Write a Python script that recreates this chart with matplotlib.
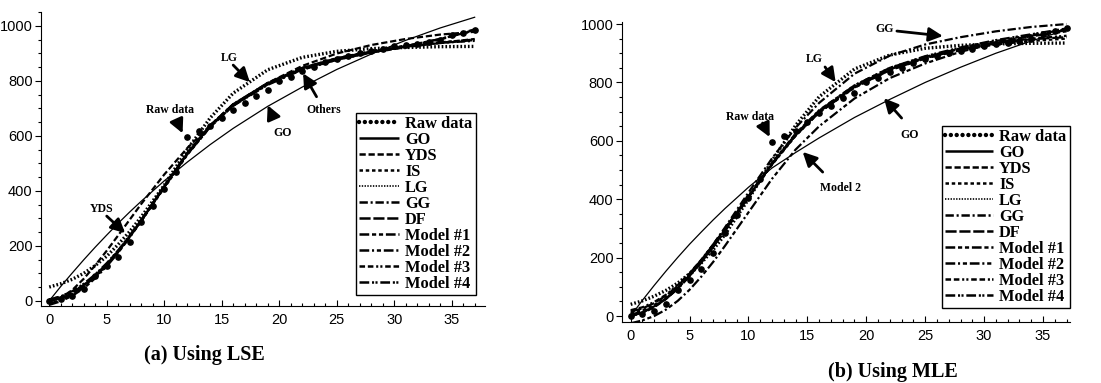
import matplotlib
matplotlib.use("Agg")
import matplotlib.pyplot as plt
from matplotlib.lines import Line2D
from matplotlib.ticker import MultipleLocator

plt.rcParams['lines.scale_dashes'] = False
plt.rcParams['font.family'] = 'Liberation Sans'

# ---- data ----
weeks = list(range(38))
raw = [0, 8, 18, 42, 90, 125, 160, 215, 285, 345, 405, 470, 595, 617, 635, 665, 695,
       720, 745, 765, 800, 815, 835, 850, 868, 880, 890, 900, 908, 915, 925, 930,
       935, 942, 950, 965, 975, 985]

t_fit = [0, 1, 2, 3, 4, 5, 6, 7, 8, 10, 12, 14, 16, 19, 22, 25, 28, 31, 34, 37]

# (a) LSE fits
lse_go  = [0, 52, 101, 149, 195, 239, 282, 323, 362, 436, 504, 568, 627, 707, 777, 841, 897, 947, 992, 1031]
lse_yds = [0, 11, 39, 80, 129, 182, 238, 295, 352, 459, 555, 638, 709, 792, 854, 899, 930, 952, 968, 978]
lse_is  = [5, 15, 32, 58, 92, 133, 180, 233, 290, 410, 530, 632, 712, 790, 846, 882, 908, 928, 940, 950]
lse_lg  = [50, 62, 78, 100, 128, 162, 205, 252, 305, 420, 550, 665, 755, 840, 885, 907, 917, 921, 924, 925]
lse_gg  = [-10, 2, 20, 48, 85, 128, 178, 233, 292, 418, 538, 638, 715, 792, 846, 880, 905, 925, 938, 945]
lse_df  = [0, 8, 25, 52, 88, 130, 178, 233, 290, 413, 535, 636, 714, 792, 847, 882, 906, 924, 937, 948]
lse_m1  = [0, 10, 28, 55, 90, 132, 180, 235, 292, 415, 535, 635, 712, 788, 842, 877, 903, 925, 950, 985]
lse_m2  = [-15, -2, 18, 45, 82, 125, 175, 230, 290, 415, 537, 638, 715, 790, 843, 878, 904, 926, 952, 983]
lse_m3  = [3, 12, 30, 58, 93, 134, 182, 236, 293, 416, 534, 633, 710, 787, 841, 876, 902, 922, 938, 952]
lse_m4  = [5, 16, 35, 62, 96, 137, 184, 238, 294, 414, 532, 632, 709, 785, 840, 876, 903, 926, 952, 987]

# (b) MLE fits
mle_go  = [0, 54, 105, 154, 201, 246, 288, 329, 368, 441, 507, 560, 610, 680, 742, 800, 852, 900, 942, 980]
mle_yds = [0, 10, 30, 58, 95, 138, 187, 240, 295, 410, 520, 618, 697, 783, 842, 883, 913, 938, 958, 975]
mle_is  = [10, 20, 38, 63, 97, 138, 185, 237, 291, 405, 518, 617, 697, 782, 842, 882, 910, 930, 942, 950]
mle_lg  = [40, 52, 68, 88, 113, 145, 182, 227, 279, 400, 532, 653, 751, 846, 894, 917, 927, 932, 934, 935]
mle_gg  = [0, 12, 32, 60, 96, 140, 190, 245, 303, 423, 540, 645, 730, 830, 892, 930, 955, 975, 990, 1000]
mle_df  = [15, 26, 44, 70, 103, 145, 192, 244, 298, 410, 522, 620, 700, 785, 845, 885, 913, 935, 948, 955]
mle_m1  = [0, 12, 32, 60, 95, 138, 186, 239, 294, 408, 522, 622, 702, 787, 847, 887, 917, 942, 962, 982]
mle_m2  = [-25, -15, 0, 22, 52, 90, 135, 185, 240, 355, 470, 570, 650, 745, 815, 865, 905, 935, 960, 980]
mle_m3  = [20, 30, 48, 73, 106, 147, 193, 245, 299, 412, 525, 625, 705, 790, 850, 888, 915, 935, 950, 960]
mle_m4  = [5, 15, 33, 59, 93, 136, 183, 236, 291, 406, 520, 621, 703, 790, 850, 890, 920, 945, 965, 985]

names = ['GO', 'YDS', 'IS', 'LG', 'GG', 'DF', 'Model #1', 'Model #2', 'Model #3', 'Model #4']
lse = [lse_go, lse_yds, lse_is, lse_lg, lse_gg, lse_df, lse_m1, lse_m2, lse_m3, lse_m4]
mle = [mle_go, mle_yds, mle_is, mle_lg, mle_gg, mle_df, mle_m1, mle_m2, mle_m3, mle_m4]

# dash patterns (points)
dashes = {
    'GO': (0, ()),
    'YDS': (0, (4.5, 2)),
    'IS': (0, (2.5, 2)),
    'LG': (0, (1, 1)),
    'GG': (0, (6, 2, 1.5, 2)),
    'DF': (0, (8, 2)),
    'Model #1': (0, (7, 2, 3, 2, 3, 2)),
    'Model #2': (0, (7, 2, 1.5, 2, 3, 2)),
    'Model #3': (0, (4, 2, 4, 2, 1.5, 1.5, 1.5, 2)),
    'Model #4': (0, (7, 2, 1.5, 1, 1.5, 2)),
}

serif = 'Liberation Serif'

fig = plt.figure(figsize=(11.01, 3.83), dpi=100)
ax1 = fig.add_axes([0.0372, 0.201, 0.4033, 0.7676])
ax2 = fig.add_axes([0.5647, 0.1593, 0.4072, 0.784])


def draw(ax, fits, xlim, ylim, hlen):
    for name, vals in zip(names, fits):
        if name == 'GO':
            ax.plot(t_fit, vals, color='k', lw=0.9, zorder=4)
        elif name == 'LG':
            # the LG fit shows up as a heavy dotted curve in the plot area
            ax.plot(t_fit, vals, color='k', lw=2.4, linestyle=(0, (1.2, 1.5)), zorder=3)
        else:
            ax.plot(t_fit, vals, color='k', lw=1.6, linestyle=dashes[name], zorder=3)
    ax.plot(weeks, raw, 'o', color='k', ms=3.8, zorder=5)

    ax.set_xlim(*xlim)
    ax.set_ylim(*ylim)
    for s in ['top', 'right']:
        ax.spines[s].set_visible(False)
    ax.xaxis.set_major_locator(MultipleLocator(5))
    ax.xaxis.set_minor_locator(MultipleLocator(1))
    ax.yaxis.set_major_locator(MultipleLocator(200))
    ax.yaxis.set_minor_locator(MultipleLocator(50))
    ax.tick_params(axis='x', which='both', direction='in', labelsize=10.5, pad=5)
    ax.tick_params(axis='y', which='both', direction='out', labelsize=10.5, pad=2)
    ax.tick_params(which='major', length=4, width=0.8)
    ax.tick_params(which='minor', length=2.5, width=0.8)

    handles = [Line2D([], [], color='k', lw=3.2, linestyle=(0, (0.01, 4.2)),
                      dash_capstyle='round')]
    for name in names:
        if name == 'LG':
            handles.append(Line2D([], [], color='k', lw=1.2, linestyle=(0, (1, 1))))
        else:
            handles.append(Line2D([], [], color='k', lw=1.8, linestyle=dashes[name]))
    leg = ax.legend(handles, ['Raw data'] + names, loc='lower right',
                    prop={'family': serif, 'weight': 'bold', 'size': 11.8},
                    handlelength=hlen, labelspacing=0.0, handletextpad=0.4,
                    borderpad=0.2, borderaxespad=0.3, fancybox=False, framealpha=1)
    leg.get_frame().set_edgecolor('k')
    leg.get_frame().set_linewidth(1.0)
    return leg


def note(ax, text, pos, start, tip):
    ax.text(pos[0], pos[1], text, ha='center', va='center',
            fontsize=8.5, fontweight='bold', family=serif)
    ax.annotate('', xy=tip, xytext=start,
                arrowprops=dict(arrowstyle='-|>,head_length=0.7,head_width=0.35',
                                color='k', lw=2, mutation_scale=12,
                                shrinkA=0, shrinkB=0))


leg1 = draw(ax1, lse, (-0.72, 37.9), (-19, 1050), 2.4)
leg1.set_bbox_to_anchor((0.99, 0.02), transform=ax1.transAxes)
note(ax1, 'LG', (15.7, 883), (16.0, 857), (17.45, 795))
note(ax1, 'Raw data', (10.5, 693), (11.1, 655), (11.6, 609))
note(ax1, 'GO', (20.3, 609), (19.5, 664), (19.0, 711))
note(ax1, 'Others', (23.9, 693), (23.25, 742), (22.08, 827))
note(ax1, 'YDS', (4.6, 333), (5.0, 308), (6.6, 246))

leg2 = draw(ax2, mle, (-0.76, 37.3), (-20.5, 1008), 2.9)
leg2.set_bbox_to_anchor((1.01, 0.03), transform=ax2.transAxes)
note(ax2, 'GG', (21.6, 983), (22.6, 976), (26.5, 959))
note(ax2, 'LG', (15.6, 880), (16.5, 853), (17.4, 801))
note(ax2, 'Raw data', (10.1, 682), (11.2, 661), (11.8, 613))
note(ax2, 'GO', (23.7, 620), (23.0, 678), (21.5, 746))
note(ax2, 'Model 2', (17.8, 438), (16.3, 493), (14.6, 562))

fig.text(0.186, 0.073, '(a) Using LSE', ha='center', va='center',
         family=serif, fontweight='bold', fontsize=14.5)
fig.text(0.811, 0.028, '(b) Using MLE', ha='center', va='center',
         family=serif, fontweight='bold', fontsize=14.5)

fig.savefig('out.png', dpi=100)
